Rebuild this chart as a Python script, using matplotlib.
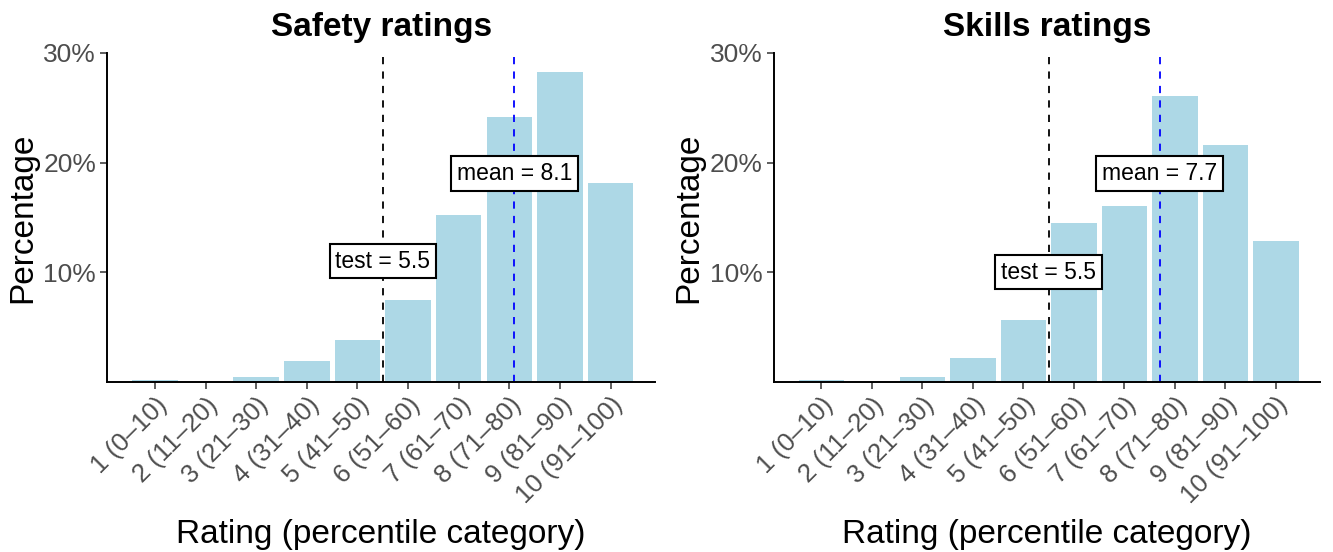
import matplotlib
matplotlib.use("Agg")
import matplotlib.pyplot as plt

plt.rcParams["font.family"] = ["Liberation Sans", "DejaVu Sans"]

categories = ["1 (0–10)", "2 (11–20)", "3 (21–30)", "4 (31–40)", "5 (41–50)",
              "6 (51–60)", "7 (61–70)", "8 (71–80)", "9 (81–90)", "10 (91–100)"]
safety_pct = [0.15, 0.0, 0.45, 1.9, 3.8, 7.45, 15.2, 24.2, 28.3, 18.1]
skills_pct = [0.15, 0.0, 0.4, 2.15, 5.6, 14.5, 16.0, 26.1, 21.6, 12.8]
titles = ["Safety ratings", "Skills ratings"]
test_values = [5.5, 5.5]
mean_values = [8.1, 7.7]
test_label_y = [11.0, 10.0]
mean_label_y = [19.0, 19.0]

BAR = "#ADD8E6"
TICK_TEXT = "#4D4D4D"

fig = plt.figure(figsize=(13.33, 5.52), dpi=100)
axes = [fig.add_axes([0.0805, 0.3085, 0.411, 0.5955]),
        fig.add_axes([0.5805, 0.3085, 0.41, 0.5955])]

for ax, title, vals, test, mean, ty, my in zip(
        axes, titles, [safety_pct, skills_pct], test_values, mean_values,
        test_label_y, mean_label_y):
    xs = list(range(1, len(categories) + 1))
    ax.bar(xs, vals, width=0.9, color=BAR, zorder=1)
    ax.axvline(test, color="black", linewidth=1.3, linestyle=(0, (4, 4)), zorder=2)
    ax.axvline(mean, color="blue", linewidth=1.3, linestyle=(0, (4, 4)), zorder=2)

    box = dict(boxstyle="square,pad=0.25", facecolor="white", edgecolor="black",
               linewidth=1.5)
    ax.text(test, ty, f"test = {test}", ha="center", va="center", fontsize=16.5,
            bbox=box, zorder=3)
    ax.text(mean, my, f"mean = {mean}", ha="center", va="center", fontsize=16.5,
            bbox=box, zorder=3)

    ax.set_xlim(0.06, 10.88)
    ax.set_ylim(0, 30)
    ax.set_xticks(xs)
    ax.set_xticklabels(categories, rotation=45, ha="right", rotation_mode="anchor",
                       fontsize=18.5, color=TICK_TEXT)
    ax.set_yticks([10, 20, 30])
    ax.set_yticklabels(["10%", "20%", "30%"], fontsize=19, color=TICK_TEXT)
    ax.tick_params(axis="both", length=5, width=1.1, color="#333333", pad=3)

    for side in ("top", "right"):
        ax.spines[side].set_visible(False)
    for side in ("left", "bottom"):
        ax.spines[side].set_linewidth(1.4)
        ax.spines[side].set_color("black")

    ax.set_title(title, fontsize=24, fontweight="bold", pad=12)
    ax.set_xlabel("Rating (percentile category)", fontsize=24, labelpad=8)
    ax.set_ylabel("Percentage", fontsize=24, labelpad=4)

fig.savefig("out.png", dpi=100)
